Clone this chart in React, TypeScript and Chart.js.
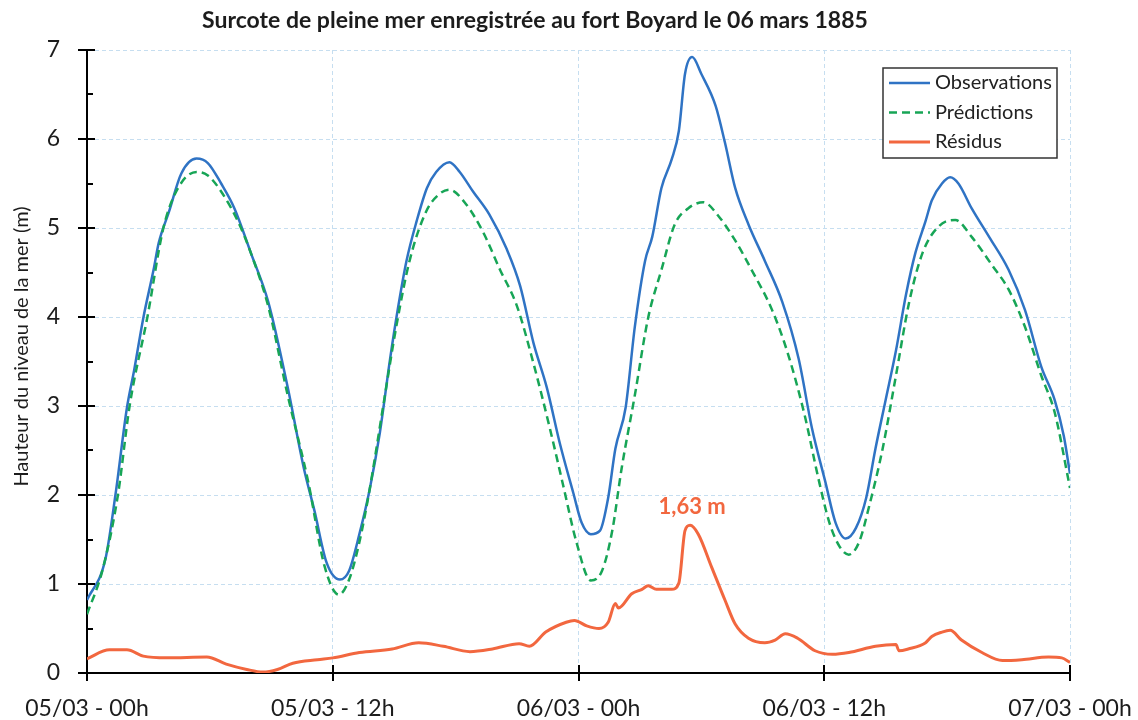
import React, { useEffect, useRef } from 'react';
import { Chart, registerables } from 'chart.js';

Chart.register(...registerables);

const TITLE = 'Surcote de pleine mer enregistrée au fort Boyard le 06 mars 1885';
const Y_TITLE = 'Hauteur du niveau de la mer (m)';
const X_TICK_HOURS = [0, 12, 24, 36, 48];
const X_TICK_LABELS = ['05/03 - 00h', '05/03 - 12h', '06/03 - 00h', '06/03 - 12h', '07/03 - 00h'];
const Y_TICKS = [0, 1, 2, 3, 4, 5, 6, 7];
const SERIES_NAMES = ['Observations', 'Prédictions', 'Résidus'];
const PEAK_LABEL = '1,63 m';

// Observations (hours since 05/03 00h, level in m)
const obsHours = [0, 0.9, 1.4, 1.95, 2.3, 2.75, 3.25, 3.5, 4.0, 4.6, 5.35, 5.9, 6.55, 7.2, 8.0, 8.85, 9.8, 10.6, 11.1, 11.7, 12.35, 12.8, 13.3, 13.8, 14.3, 14.8, 15.2, 15.6, 16.1, 16.6, 17.05, 17.7, 18.2, 18.85, 19.65, 20.5, 21.15, 21.8, 22.45, 23.1, 23.75, 24.15, 24.6, 25.05, 25.45, 25.8, 26.3, 26.75, 27.25, 27.6, 28.05, 28.55, 28.9, 29.2, 29.55, 30.0, 30.7, 31.15, 31.65, 32.3, 33.1, 33.95, 34.75, 35.4, 36.05, 36.55, 37.05, 37.55, 38.05, 38.5, 39.0, 39.5, 40.0, 40.45, 40.95, 41.25, 41.75, 42.15, 42.55, 43.2, 44.05, 45.0, 45.8, 46.6, 47.25, 47.7, 48.0];
const obsLevels = [0.82, 1.28, 2.02, 2.98, 3.40, 3.99, 4.53, 4.83, 5.18, 5.61, 5.78, 5.73, 5.50, 5.22, 4.72, 4.17, 3.21, 2.29, 1.83, 1.24, 1.05, 1.15, 1.56, 2.06, 2.70, 3.53, 4.12, 4.63, 5.08, 5.45, 5.63, 5.74, 5.63, 5.41, 5.15, 4.76, 4.35, 3.71, 3.21, 2.57, 2.02, 1.69, 1.56, 1.60, 1.97, 2.52, 2.98, 3.89, 4.63, 4.90, 5.45, 5.77, 6.09, 6.73, 6.92, 6.73, 6.37, 5.96, 5.45, 5.04, 4.63, 4.17, 3.53, 2.75, 2.15, 1.69, 1.51, 1.63, 1.97, 2.52, 3.07, 3.62, 4.26, 4.72, 5.08, 5.31, 5.50, 5.57, 5.50, 5.22, 4.90, 4.53, 4.08, 3.44, 3.07, 2.66, 2.24];

// Predictions
const predHours = [0, 0.75, 1.51, 2.08, 2.95, 3.73, 4.45, 5.35, 5.9, 6.55, 7.4, 8.0, 8.85, 9.8, 10.8, 11.6, 12.3, 12.8, 13.3, 13.8, 14.45, 15.1, 15.75, 16.55, 17.2, 17.7, 18.5, 19.35, 20.15, 21.0, 21.8, 22.6, 23.25, 23.9, 24.6, 25.15, 25.65, 26.1, 26.75, 27.4, 28.05, 28.7, 29.35, 30.1, 30.85, 31.65, 32.45, 33.45, 34.25, 35.05, 35.7, 36.25, 36.75, 37.2, 37.7, 38.2, 38.85, 39.5, 40.15, 40.8, 41.6, 42.4, 43.2, 44.2, 45.0, 45.8, 46.6, 47.25, 48.0];
const predLevels = [0.66, 1.15, 2.0, 3.0, 4.0, 5.0, 5.45, 5.63, 5.59, 5.41, 5.06, 4.72, 4.12, 3.12, 2.15, 1.20, 0.88, 1.05, 1.47, 2.06, 2.98, 3.89, 4.63, 5.18, 5.38, 5.43, 5.27, 4.95, 4.54, 4.12, 3.48, 2.75, 2.11, 1.47, 1.04, 1.15, 1.60, 2.29, 3.12, 3.99, 4.53, 5.04, 5.22, 5.29, 5.13, 4.86, 4.53, 4.08, 3.57, 2.89, 2.20, 1.69, 1.42, 1.33, 1.47, 1.88, 2.52, 3.34, 4.17, 4.72, 5.02, 5.09, 4.90, 4.58, 4.31, 3.89, 3.34, 2.93, 2.08];

// Residuals
const resHours = [0, 1.1, 1.95, 2.75, 3.9, 5.85, 6.8, 7.8, 8.6, 9.3, 10.05, 11.25, 12.0, 13.3, 14.9, 16.2, 17.4, 18.7, 19.8, 21.1, 21.6, 22.4, 23.4, 23.8, 24.4, 25.0, 25.45, 25.8, 25.95, 26.6, 27.1, 27.4, 27.8, 28.55, 28.9, 29.2, 29.45, 29.85, 30.5, 31.15, 31.65, 32.3, 33.1, 33.6, 34.1, 34.7, 35.55, 36.4, 37.2, 38.5, 39.5, 39.65, 40.1, 40.95, 41.25, 41.75, 42.15, 42.7, 43.7, 44.7, 45.65, 46.95, 47.6, 48.0];
const resLevels = [0.16, 0.26, 0.26, 0.19, 0.17, 0.18, 0.10, 0.04, 0.01, 0.04, 0.11, 0.15, 0.17, 0.23, 0.27, 0.34, 0.30, 0.24, 0.27, 0.33, 0.30, 0.46, 0.57, 0.59, 0.53, 0.50, 0.57, 0.78, 0.73, 0.89, 0.94, 0.98, 0.94, 0.94, 1.01, 1.60, 1.66, 1.56, 1.19, 0.82, 0.55, 0.39, 0.34, 0.37, 0.44, 0.39, 0.25, 0.21, 0.23, 0.30, 0.32, 0.25, 0.27, 0.34, 0.41, 0.46, 0.48, 0.37, 0.23, 0.14, 0.15, 0.18, 0.17, 0.12];

const BLUE = '#2f73c4';
const GREEN = '#17a556';
const ORANGE = '#f2673f';
const GRID = '#c6def0';
const TEXT = '#1c1c1c';
const FONT = 'Lato, "Open Sans", sans-serif';

const toPoints = (xs: number[], ys: number[]) => xs.map((x, i) => ({ x, y: ys[i] }));

const axisTicksPlugin = {
  id: 'axisTicks',
  afterDraw(chart: any) {
    const { ctx, chartArea, scales } = chart;
    const x = scales.x;
    const y = scales.y;
    const line = (x1: number, y1: number, x2: number, y2: number) => {
      ctx.beginPath();
      ctx.moveTo(x1, y1);
      ctx.lineTo(x2, y2);
      ctx.stroke();
    };
    ctx.save();
    ctx.strokeStyle = '#000';
    ctx.lineWidth = 2;
    ctx.setLineDash([]);
    for (const v of Y_TICKS) {
      const py = Math.round(y.getPixelForValue(v));
      line(chartArea.left - 9, py, chartArea.left + 8, py);
    }
    for (let i = 0; i < Y_TICKS.length - 1; i++) {
      const py = Math.round(y.getPixelForValue((Y_TICKS[i] + Y_TICKS[i + 1]) / 2));
      line(chartArea.left, py, chartArea.left + 6, py);
    }
    for (const h of X_TICK_HOURS) {
      const px = Math.round(x.getPixelForValue(h));
      line(px, chartArea.bottom - 8, px, chartArea.bottom + 8);
    }
    // vertical axis title
    ctx.translate(22, (chartArea.top + chartArea.bottom) / 2 - 15);
    ctx.rotate(-Math.PI / 2);
    ctx.font = `20px ${FONT}`;
    ctx.fillStyle = TEXT;
    ctx.textAlign = 'center';
    ctx.textBaseline = 'middle';
    ctx.fillText(Y_TITLE, 0, 0);
    ctx.restore();
  },
};

const legendBoxPlugin = {
  id: 'legendBox',
  afterDraw(chart: any) {
    const { ctx, chartArea } = chart;
    const bx = chartArea.right - 187;
    const by = chartArea.top + 18;
    const bw = 174;
    const bh = 90;
    ctx.save();
    ctx.fillStyle = '#ffffff';
    ctx.fillRect(bx, by, bw, bh);
    ctx.strokeStyle = '#333';
    ctx.lineWidth = 1.5;
    ctx.setLineDash([]);
    ctx.strokeRect(bx, by, bw, bh);
    const sets = chart.data.datasets;
    ctx.font = `20px ${FONT}`;
    ctx.textBaseline = 'middle';
    ctx.textAlign = 'left';
    sets.forEach((ds: any, i: number) => {
      const ry = by + 15 + i * 29.5;
      ctx.strokeStyle = ds.borderColor;
      ctx.lineWidth = ds.borderWidth;
      ctx.setLineDash(ds.borderDash || []);
      ctx.beginPath();
      ctx.moveTo(bx + 6, ry);
      ctx.lineTo(bx + 47, ry);
      ctx.stroke();
      ctx.setLineDash([]);
      ctx.fillStyle = '#222';
      ctx.fillText(ds.label, bx + 52, ry);
    });
    ctx.restore();
  },
};

const peakLabelPlugin = {
  id: 'peakLabel',
  afterDatasetsDraw(chart: any) {
    const { ctx, scales } = chart;
    let iMax = 0;
    resLevels.forEach((v, i) => {
      if (v > resLevels[iMax]) iMax = i;
    });
    const px = scales.x.getPixelForValue(resHours[iMax]);
    const py = scales.y.getPixelForValue(resLevels[iMax]);
    ctx.save();
    ctx.font = `bold 22px ${FONT}`;
    ctx.fillStyle = ORANGE;
    ctx.textAlign = 'center';
    ctx.textBaseline = 'alphabetic';
    ctx.fillText(PEAK_LABEL, px + 2, py - 11);
    ctx.restore();
  },
};

export default function App() {
  const ref = useRef<HTMLCanvasElement | null>(null);

  useEffect(() => {
    if (!ref.current) return;
    const chart = new Chart(ref.current, {
      type: 'line',
      data: {
        datasets: [
          {
            label: SERIES_NAMES[0],
            data: toPoints(obsHours, obsLevels),
            borderColor: BLUE,
            borderWidth: 2.5,
            pointRadius: 0,
            fill: false,
            cubicInterpolationMode: 'monotone',
            order: 2,
          },
          {
            label: SERIES_NAMES[1],
            data: toPoints(predHours, predLevels),
            borderColor: GREEN,
            borderWidth: 2.5,
            borderDash: [8, 5],
            pointRadius: 0,
            fill: false,
            cubicInterpolationMode: 'monotone',
            order: 1,
          },
          {
            label: SERIES_NAMES[2],
            data: toPoints(resHours, resLevels),
            borderColor: ORANGE,
            borderWidth: 3,
            pointRadius: 0,
            fill: false,
            cubicInterpolationMode: 'monotone',
            order: 0,
          },
        ],
      },
      options: {
        responsive: false,
        animation: false,
        devicePixelRatio: 1,
        layout: { padding: { left: 0, right: 68, top: 0, bottom: 0 } },
        plugins: {
          legend: { display: false },
          tooltip: { enabled: false },
          title: {
            display: true,
            text: TITLE,
            color: TEXT,
            font: { family: FONT, size: 23, weight: 'bold' },
            padding: { top: 7, bottom: 15.4 },
          },
        },
        scales: {
          x: {
            type: 'linear',
            min: 0,
            max: 48,
            afterBuildTicks: (scale: any) => {
              scale.ticks = X_TICK_HOURS.map((v) => ({ value: v }));
            },
            afterFit: (scale: any) => {
              scale.height = 47;
              scale.paddingLeft = 0;
              scale.paddingRight = 0;
            },
            ticks: {
              autoSkip: false,
              maxRotation: 0,
              minRotation: 0,
              padding: 22,
              color: TEXT,
              font: { family: FONT, size: 23 },
              callback: (v: any) => {
                const i = X_TICK_HOURS.indexOf(Number(v));
                return i >= 0 ? X_TICK_LABELS[i] : '';
              },
            },
            grid: { color: GRID, lineWidth: 1, drawTicks: false },
            border: { display: true, color: '#000', width: 2, dash: [4, 3] },
          },
          y: {
            type: 'linear',
            min: 0,
            max: 7,
            afterBuildTicks: (scale: any) => {
              scale.ticks = Y_TICKS.map((v) => ({ value: v }));
            },
            afterFit: (scale: any) => {
              scale.width = 87;
              scale.paddingTop = 0;
              scale.paddingBottom = 0;
            },
            ticks: {
              padding: 27,
              color: TEXT,
              font: { family: FONT, size: 23 },
            },
            title: { display: false },
            grid: { color: GRID, lineWidth: 1, drawTicks: false },
            border: { display: true, color: '#000', width: 2, dash: [4, 3] },
          },
        },
      },
      plugins: [peakLabelPlugin, axisTicksPlugin, legendBoxPlugin],
    } as any);
    return () => chart.destroy();
  }, []);

  return (
    <div style={{ position: 'fixed', left: 0, top: 0, width: 1138, height: 720, background: '#fff' }}>
      <canvas ref={ref} width={1138} height={720} style={{ width: 1138, height: 720, display: 'block' }} />
    </div>
  );
}
